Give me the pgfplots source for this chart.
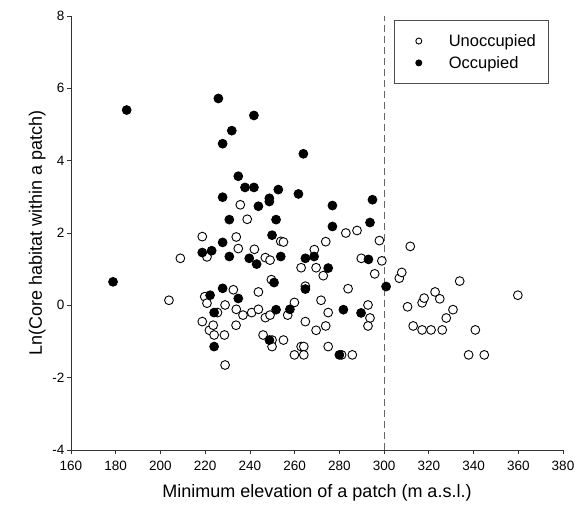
\documentclass[border=0pt]{standalone}
\usepackage{fontspec}
\setmainfont{Liberation Sans}
\usepackage{pgfplots}
\pgfplotsset{compat=1.18}

% elevation (m a.s.l.) vs ln(core habitat)
\begin{document}
\begin{tikzpicture}
\begin{axis}[
  scale only axis,
  width=492pt, height=434pt,
  xmin=160, xmax=380, ymin=-4, ymax=8,
  xtick={160,180,...,380}, ytick={-4,-2,...,8},
  axis x line=bottom, axis y line=left,
  axis line style={-, line width=0.8pt, black!80},
  tick style={line width=0.8pt, black!80},
  tick align=outside, major tick length=4pt,
  /pgf/number format/assume math mode=true,
  /pgf/number format/1000 sep={},
  tick label style={font=\fontsize{13.5}{15}\selectfont},
  xticklabel style={yshift=-4pt},
  yticklabel style={xshift=1pt},
  label style={font=\fontsize{18}{21}\selectfont},
  xlabel={Minimum elevation of a patch (m a.s.l.)},
  ylabel={Ln(Core habitat within a patch)},
  xlabel style={yshift=-6pt},
  clip=false,
  legend style={at={(0.6565,0.991)}, anchor=north west,
    draw=black!70, line width=0.8pt, fill=white,
    font=\fontsize{16.5}{18}\selectfont,
    inner xsep=10pt, inner ysep=12pt,
    row sep=4.4pt,
    cells={anchor=west},
    /tikz/every odd column/.append style={column sep=25pt}},
  legend image code/.code={\path (-14pt,0pt); \draw[#1, mark size=3pt, line width=0.7pt] plot coordinates {(0cm,0cm)};},
]
% dashed reference line at 300 m
\addplot[forget plot, black!60, line width=0.8pt, dash pattern=on 7pt off 4pt] coordinates {(300,-4) (300,8)};

\addplot[only marks, mark=*, mark size=4.4pt, mark options={fill=white, draw=black, line width=0.9pt}] coordinates {
(203.8,0.14) (208.9,1.30) (218.7,1.90) (218.7,-0.45) (219.8,0.24)
(220.8,0.06) (220.8,1.34) (221.9,-0.69) (223.6,-0.55) (224.0,-0.82)
(225.5,-0.20) (228.9,0.01) (228.6,-0.82) (228.9,-1.65) (232.6,0.43)
(233.9,1.89) (233.9,-0.11) (233.8,-0.55) (234.8,1.57) (235.7,2.78)
(236.9,-0.27) (238.8,2.38) (240.8,-0.20) (242.0,1.55) (243.8,0.37)
(243.8,-0.11) (245.9,-0.82) (246.9,1.32) (246.9,-0.34) (249.0,1.25)
(249.0,-0.27) (249.6,0.71) (249.9,-0.96) (249.9,-1.14) (253.8,1.77)
(255.0,1.75) (255.0,-0.96) (256.9,-0.27) (259.9,0.08) (259.9,-1.37)
(262.9,1.04) (262.9,-1.14) (264.1,-1.14) (264.1,-1.37) (264.8,0.53)
(264.8,-0.45) (268.8,1.54) (269.6,1.04) (269.6,-0.69) (271.8,0.14)
(272.8,0.82) (273.9,1.76) (273.9,-0.57) (275.0,-0.20) (275.0,-1.14)
(281.0,-1.37) (282.9,2.00) (283.9,0.46) (285.8,-1.37) (287.9,2.07)
(289.8,1.30) (292.8,0.01) (293.7,-0.35) (292.8,-0.57) (295.8,0.87)
(297.9,1.79) (299.0,1.23) (306.8,0.75) (307.9,0.91) (310.5,-0.04)
(311.7,1.63) (313.0,-0.57) (317.0,0.07) (317.9,0.20) (317.0,-0.68)
(321.0,-0.68) (322.8,0.37) (324.9,0.18) (326.0,-0.68) (327.8,-0.35)
(330.8,-0.12) (333.8,0.67) (337.8,-1.37) (340.8,-0.68) (344.8,-1.37)
(359.8,0.28)
};
\addlegendentry{Unoccupied}

\addplot[only marks, mark=*, mark size=4.4pt, mark options={fill=black, draw=black, line width=0.9pt}] coordinates {
(178.8,0.65) (184.9,5.40) (218.7,1.46) (222.2,0.28) (222.9,1.51)
(224.0,-0.20) (224.0,-1.14) (225.9,5.72) (227.8,4.47) (227.8,2.99)
(227.8,1.74) (227.8,0.47) (230.8,2.37) (230.8,1.35) (231.9,4.83)
(234.8,3.57) (234.8,0.19) (237.8,3.26) (239.7,1.30) (241.8,5.25)
(241.8,3.26) (243.0,1.14) (243.8,2.74) (248.7,2.96) (248.7,2.87)
(248.7,-0.96) (249.9,1.94) (250.8,0.63) (251.7,2.37) (251.7,-0.12)
(252.7,3.20) (253.8,1.35) (257.9,-0.11) (261.7,3.08) (263.9,4.19)
(264.8,1.30) (264.8,0.45) (268.7,1.35) (275.0,1.03) (276.9,2.76)
(276.9,2.18) (280.0,-1.37) (281.8,-0.12) (289.7,-0.21) (293.0,1.27)
(293.7,2.29) (294.8,2.92) (300.9,0.52)
};
\addlegendentry{Occupied}
\end{axis}
\path[use as bounding box] (-71pt,-52pt) rectangle (516pt,450pt);
\end{tikzpicture}
\end{document}
